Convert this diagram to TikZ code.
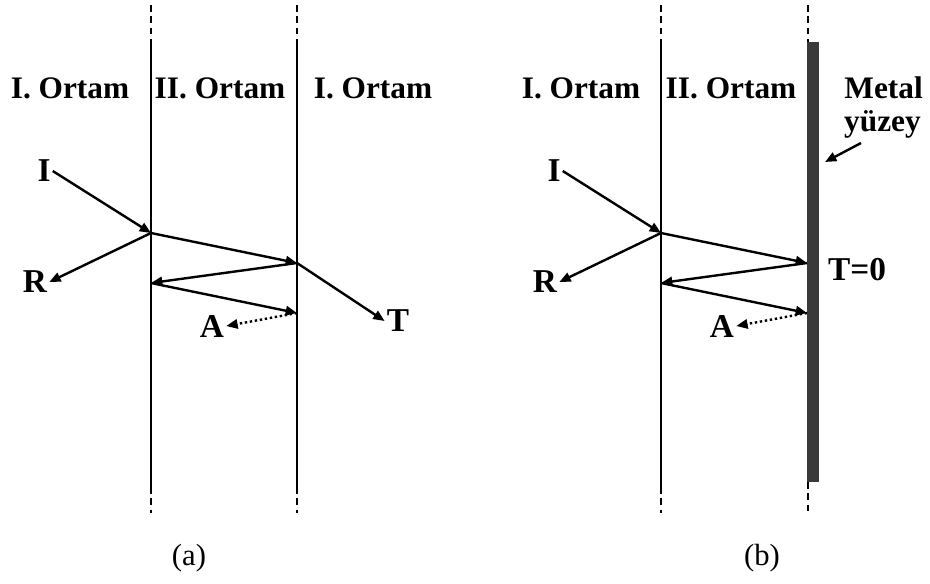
\documentclass[tikz,border=0pt]{standalone}
\usepackage{fontspec}
\setmainfont{Liberation Serif}
\usepackage{tikz}
\usetikzlibrary{arrows.meta, positioning}
\definecolor{metalgray}{RGB}{58, 58, 58}

\begin{document}
\begin{tikzpicture}[
        x=0.75pt, y=-0.75pt,
        lbl/.style={font=\fontsize{23.5}{27}\selectfont\bfseries, inner sep=1.5pt},
        ray/.style={font=\fontsize{25}{29}\selectfont\bfseries, inner sep=1.5pt},
        subcap/.style={font=\fontsize{23}{27}\selectfont},
        wall/.style={line width=1.6pt},
        wallend/.style={line width=1.3pt, dash pattern=on 5pt off 3.5pt},
        arrow/.style={-{Triangle[length=8.5pt, width=7pt]}, line width=1.8pt},
        dotarrow/.style={arrow, dotted}
      ]
        \useasboundingbox (0,0) rectangle (930,583);
        % boundaries
        \foreach \xx in {151, 297, 661} {
          \draw[wallend] (\xx,5) -- (\xx,42);
          \draw[wall] (\xx,42) -- (\xx,487);
          \draw[wallend] (\xx,487) -- (\xx,513);
        }
        \draw[wallend] (808,5) -- (808,42);
        \draw[wallend] (808,482) -- (808,513);
        \fill[metalgray] (807,42) rectangle (819,482);

        % (a)
        \node[lbl] (medLa) at (70,88) {I. Ortam};
        \node[lbl] (medMa) at (220,88) {II. Ortam};
        \node[lbl] (medRa) at (373,88) {I. Ortam};
        \node[ray] (Ia) at (44,171) {I};
        \node[ray] (Ra) at (35,282) {R};
        \node[ray] (Aa) at (212,326) {A};
        \node[ray] (Ta) at (398,321) {T};
        \coordinate (a1) at (151,233);
        \coordinate (a2) at (297,263);
        \coordinate (a3) at (151,283);
        \coordinate (a4) at (297,313);
        \draw[arrow] (Ia.east) -- (a1);
        \draw[arrow] (a1) -- (Ra.east);
        \draw[arrow] (a1) -- (a2);
        \draw[arrow] (a2) -- (Ta.west);
        \draw[arrow] (a2) -- (a3);
        \draw[arrow] (a3) -- (a4);
        \draw[dotarrow] (a4) -- (Aa.east);
        \node[subcap] (capa) at (189,558) {(a)};

        % (b)
        \node[lbl] (medLb) at (581,88) {I. Ortam};
        \node[lbl] (medMb) at (731,88) {II. Ortam};
        \node[lbl, anchor=east] (metal) at (925,88) {Metal};
        \node[lbl, anchor=east] (yuzey) at (923,124) {yüzey};
        \node[ray] (Ib) at (554,171) {I};
        \node[ray] (Rb) at (545,282) {R};
        \node[ray] (Ab) at (722,326) {A};
        \node[ray] (Tb) at (857,270) {T=0};
        \coordinate (b1) at (661,233);
        \coordinate (b2) at (807,263);
        \coordinate (b3) at (661,283);
        \coordinate (b4) at (807,313);
        \coordinate (bar) at (825,162);
        \coordinate (yzfoot) at (861,143);
        \draw[arrow] (Ib.east) -- (b1);
        \draw[arrow] (b1) -- (Rb.east);
        \draw[arrow] (b1) -- (b2);
        \draw[arrow] (b2) -- (b3);
        \draw[arrow] (b3) -- (b4);
        \draw[dotarrow] (b4) -- (Ab.east);
        \draw[arrow] (yzfoot) -- (bar);
        \node[subcap] (capb) at (762,558) {(b)};
      \end{tikzpicture}
\end{document}
